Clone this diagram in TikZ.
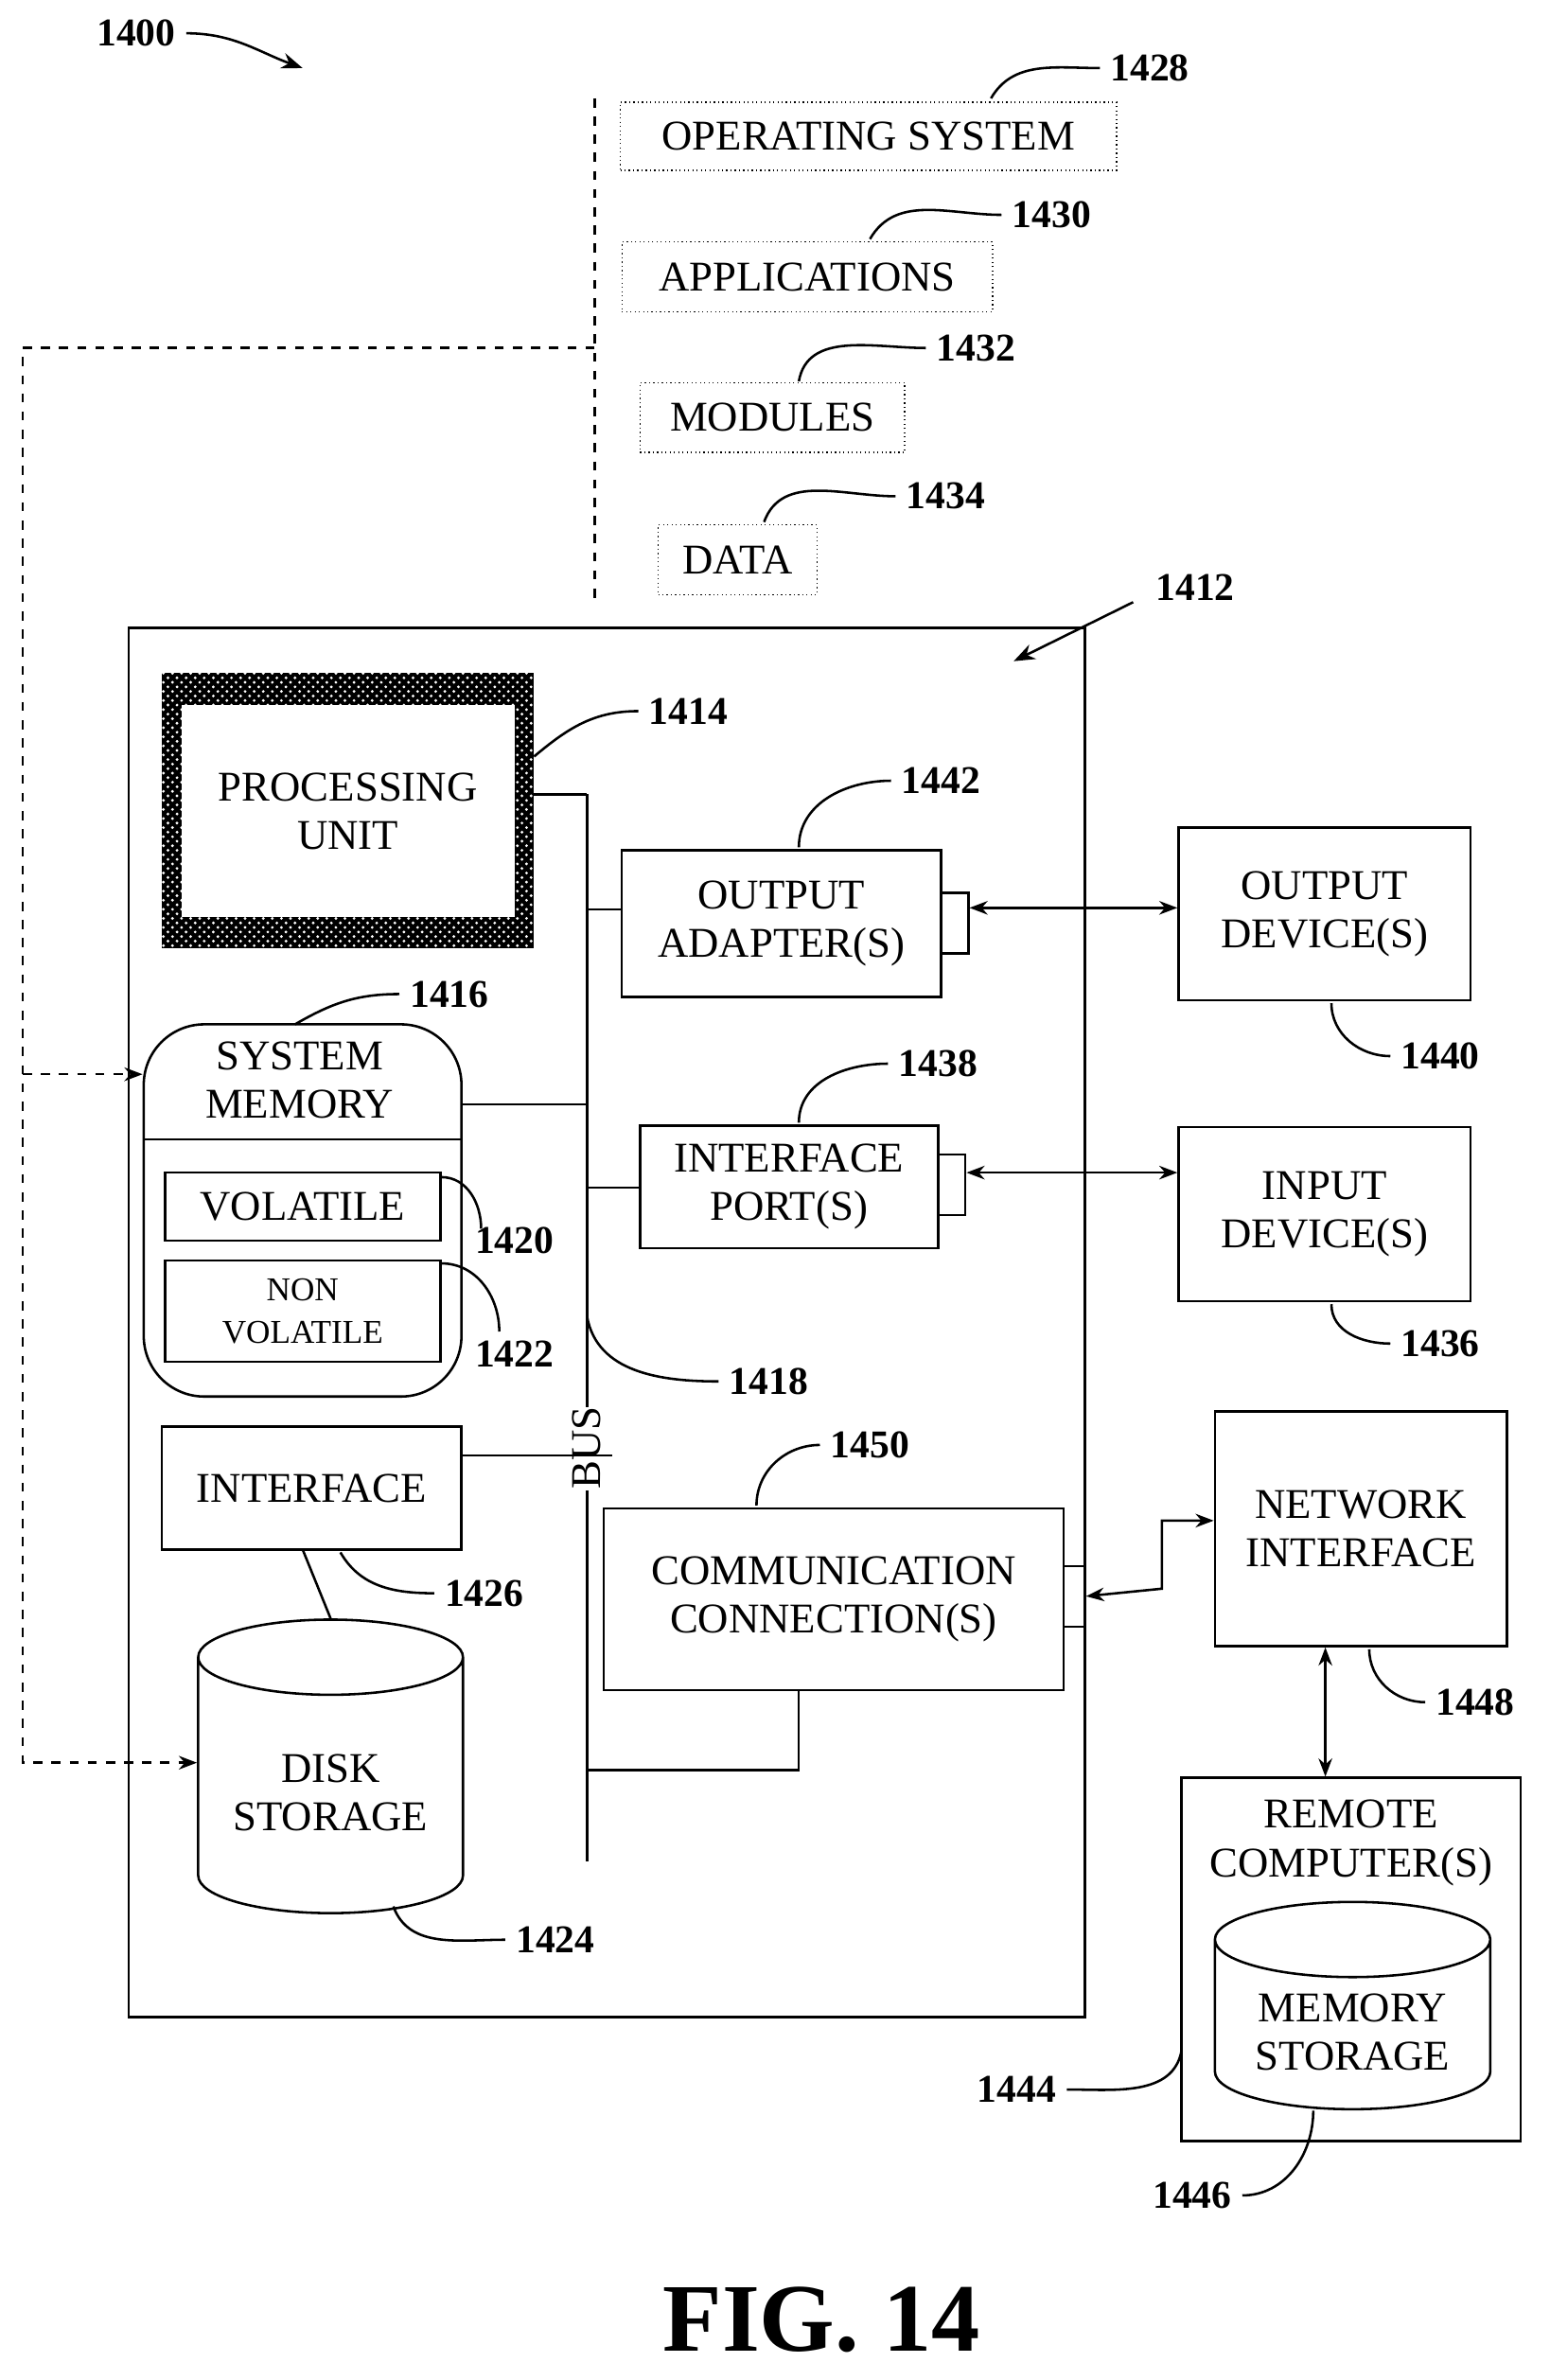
\documentclass[tikz,border=0pt]{standalone}
\usepackage{fontspec}
\setmainfont{Liberation Serif}
\usetikzlibrary{shapes.geometric,arrows.meta,patterns}

\begin{document}
\begin{tikzpicture}[x=0.5pt,y=-0.5pt,
		box/.style={draw, thick, inner sep=0pt, align=center, font=\fontsize{14}{16}\selectfont},
		soft/.style={draw, densely dotted, inner sep=0pt, font=\fontsize{14}{16}\selectfont},
		num/.style={font=\bfseries\fontsize{13}{15}\selectfont},
		lead/.style={thick},
		link/.style={thick, {Stealth[length=6pt]}-{Stealth[length=6pt]}},
		call/.style={thick, dashed, -{Stealth[length=6pt]}},
		drum/.style={draw, thick, cylinder, shape border rotate=90, aspect=0.35, align=center, font=\fontsize{14}{16}\selectfont},
	]
	\useasboundingbox (0,0) rectangle (1024,1573);

	% software stack
	\node(os)[soft, minimum width=164pt, minimum height=22.5pt] at (574,90) {OPERATING SYSTEM};
	\node(apps)[soft, minimum width=122.5pt, minimum height=23pt] at (533.5,183) {APPLICATIONS};
	\node(mods)[soft, minimum width=87.5pt, minimum height=23pt] at (510.5,276) {MODULES};
	\node(data)[soft, minimum width=52.5pt, minimum height=23pt] at (487.5,370) {DATA};
	\coordinate(stackTop) at (393,65);
	\coordinate(stackBot) at (393,395);
	\coordinate(stackOut) at (393,230);
	\coordinate(leftTop) at (15,230);
	\coordinate(leftBot) at (15,1165);
	\draw[thick, dashed] (stackTop) -- (stackBot);

	% computer
	\node(computer)[draw, thick, minimum width=316pt, minimum height=459pt] at (401,874) {};
	\fill[black] (107,445) rectangle (353,627);
	\fill[pattern=crosshatch dots, pattern color=white] (107,445) rectangle (353,627);
	\node(pu)[box, fill=white, draw=none, minimum width=110pt, minimum height=70pt] at (230,536) {PROCESSING\\UNIT};
	\node(sysmem)[draw, thick, rounded corners=20pt, minimum width=105pt, minimum height=123pt] at (200,800) {};
	\draw[thick] (95,753) -- (305,753);
	\node[box, draw=none] at (198,714) {SYSTEM\\MEMORY};
	\node(vol)[box, minimum width=91pt, minimum height=22.5pt] at (200,797.5) {VOLATILE};
	\node(nonvol)[box, minimum width=91pt, minimum height=33.5pt, font=\fontsize{11}{14}\selectfont] at (200,866.5) {NON\\VOLATILE};
	\node(iface)[box, minimum width=99pt, minimum height=40.5pt] at (206,983.5) {INTERFACE};
	\node(disk)[drum, minimum width=87.5pt, minimum height=97pt] at (218.5,1185) {DISK\\STORAGE};
	\node(outad)[box, minimum width=105.5pt, minimum height=48.5pt] at (516.5,610.5) {OUTPUT\\ADAPTER(S)};
	\node(ifport)[box, minimum width=98.5pt, minimum height=40.5pt] at (521.5,784.5) {INTERFACE\\PORT(S)};
	\node(comm)[box, minimum width=152pt, minimum height=60pt] at (551,1057) {COMMUNICATION\\CONNECTION(S)};
	\node(tabA)[draw, thick, minimum width=9pt, minimum height=20pt, inner sep=0pt] at (631,610) {};
	\node(tabB)[draw, thick, minimum width=9pt, minimum height=20pt, inner sep=0pt] at (629,783) {};
	\node(tabC)[draw, thick, minimum width=7pt, minimum height=20pt, inner sep=0pt] at (710,1055) {};

	% bus
	\coordinate(busTop) at (388,525);
	\coordinate(busBot) at (388,1230);
	\draw[thick] (busTop) -- (388,930) (388,985) -- (busBot);
	\node(bus)[rotate=90, font=\fontsize{14}{16}\selectfont] at (388,957) {BUS};
	\draw[thick] (353,525) -- (busTop);
	\draw[thick] (388,601) -- (outad.west|-388,601);
	\draw[thick] (sysmem.east|-0,730) -- (388,730);
	\draw[thick] (388,785) -- (ifport.west|-0,785);
	\draw[thick] (iface.east|-0,962) -- (bus.south|-0,962);
	\draw[thick] (200,1024) -- (disk.north);
	\draw[thick] (comm.south-|528,0) -- (528,1170) -- (388,1170);

	% outside
	\node(outdev)[box, minimum width=96.5pt, minimum height=57pt] at (875.5,604) {OUTPUT\\DEVICE(S)};
	\node(indev)[box, minimum width=96.5pt, minimum height=57.5pt] at (875.5,802.5) {INPUT\\DEVICE(S)};
	\node(netif)[box, minimum width=96.5pt, minimum height=77.5pt] at (899.5,1010.5) {NETWORK\\INTERFACE};
	\node(remote)[draw, thick, minimum width=112pt, minimum height=120pt] at (893,1295) {};
	\node[box, draw=none] at (893,1218) {REMOTE\\COMPUTER(S)};
	\node(memst)[drum, minimum width=91pt, minimum height=68.5pt] at (894,1343) {MEMORY\\STORAGE};

	\draw[link] (tabA.east|-0,600) -- (outdev.west|-0,600);
	\draw[link] (tabB.east|-0,775) -- (indev.west|-0,775);
	\draw[link] (tabC.east) -- (768,1050) -- (768,1005) -- (netif.west|-0,1005);
	\draw[link] (netif.south-|876,0) -- (remote.north-|876,0);

	\draw[call] (stackOut) -- (leftTop) -- (leftBot) -- (disk.west|-0,1165);
	\draw[call] (15,710) -- (sysmem.west|-0,710);

	% reference numerals
	\node(n1400)[num] at (90,22) {1400};
	\draw[thick, -{Stealth[length=7pt]}] (n1400.east) to[out=0,in=160] (200,45);
	\node(n1412)[num] at (790,388) {1412};
	\draw[thick, -{Stealth[length=7pt]}] (n1412.west)++(-8,10) -- (670,437);
	\node(n1428)[num] at (760,45) {1428};
	\draw[lead] (n1428.west) to[out=180,in=60] (655,65);
	\node(n1430)[num] at (695,142) {1430};
	\draw[lead] (n1430.west) to[out=180,in=60] (575,158);
	\node(n1432)[num] at (645,230) {1432};
	\draw[lead] (n1432.west) to[out=180,in=80] (528,252);
	\node(n1434)[num] at (625,328) {1434};
	\draw[lead] (n1434.west) to[out=180,in=70] (505,345);
	\node(n1414)[num] at (455,470) {1414};
	\draw[lead] (n1414.west) to[out=180,in=40] (353,500);
	\node(n1442)[num] at (622,516) {1442};
	\draw[lead] (n1442.west) to[out=180,in=90] (528,560);
	\node(n1440)[num] at (952,698) {1440};
	\draw[lead] (880,663) to[out=-90,in=180] (n1440.west);
	\node(n1416)[num] at (297,657) {1416};
	\draw[lead] (n1416.west) to[out=180,in=30] (195,677);
	\node(n1420)[num] at (340,820) {1420};
	\draw[lead] (vol.east|-0,778) to[out=0,in=90] (318,812);
	\node(n1422)[num] at (340,895) {1422};
	\draw[lead] (nonvol.east|-0,835) to[out=0,in=90] (330,880);
	\node(n1438)[num] at (620,703) {1438};
	\draw[lead] (n1438.west) to[out=180,in=90] (528,742);
	\node(n1436)[num] at (952,888) {1436};
	\draw[lead] (880,862) to[out=-90,in=180] (n1436.west);
	\node(n1418)[num] at (508,913) {1418};
	\draw[lead] (388,870) to[out=-80,in=180] (n1418.west);
	\node(n1426)[num] at (320,1053) {1426};
	\draw[lead] (225,1026) to[out=-60,in=180] (n1426.west);
	\node(n1424)[num] at (367,1282) {1424};
	\draw[lead] (260,1260) to[out=-70,in=180] (n1424.west);
	\node(n1450)[num] at (575,955) {1450};
	\draw[lead] (n1450.west) to[out=180,in=90] (500,995);
	\node(n1448)[num] at (975,1125) {1448};
	\draw[lead] (905,1090) to[out=-90,in=180] (n1448.west);
	\node(n1444)[num] at (672,1381) {1444};
	\draw[lead] (n1444.east) to[out=0,in=-100] (781,1355);
	\node(n1446)[num] at (788,1451) {1446};
	\draw[lead] (n1446.east) to[out=0,in=-90] (868,1395);

	\node(fig)[font=\bfseries\fontsize{32}{36}\selectfont] at (543,1533) {FIG. 14};
\end{tikzpicture}
\end{document}
